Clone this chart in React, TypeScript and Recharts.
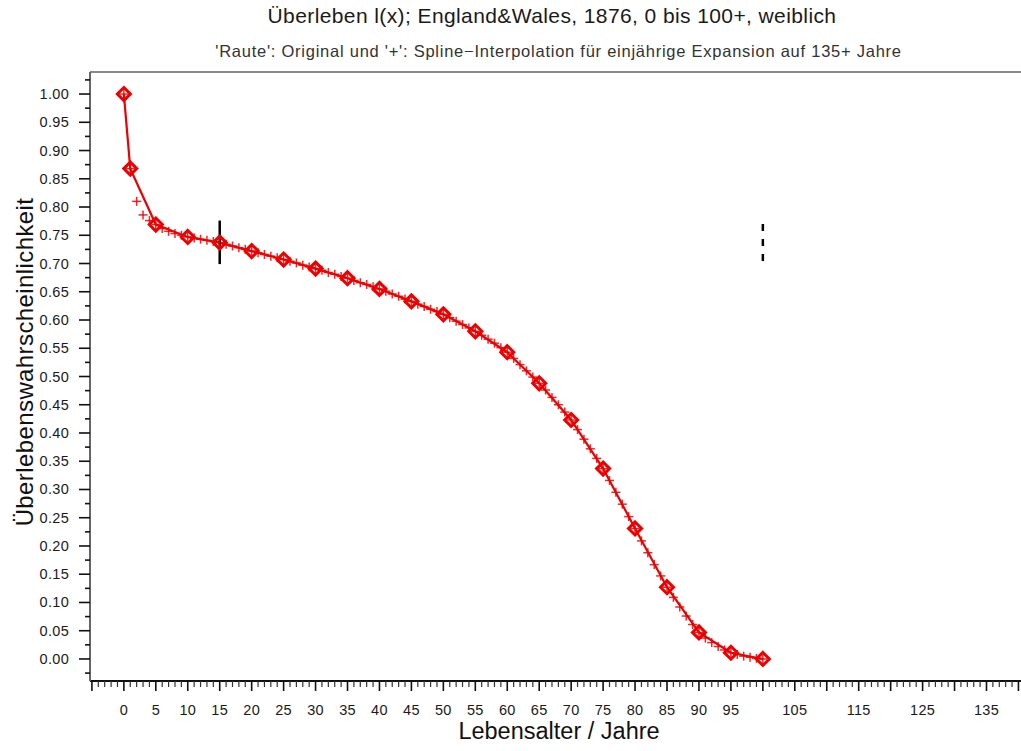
import { ComposedChart, Line, Scatter, XAxis, YAxis, ReferenceLine } from 'recharts';

// Originalwerte l(x) (Raute)
const origAges = [0, 1, 5, 10, 15, 20, 25, 30, 35, 40, 45, 50, 55, 60, 65, 70, 75, 80, 85, 90, 95, 100];
const origValues = [1.0, 0.868, 0.769, 0.747, 0.737, 0.722, 0.707, 0.691, 0.674, 0.655, 0.633, 0.61, 0.58, 0.543, 0.488, 0.423, 0.337, 0.231, 0.127, 0.047, 0.011, 0.0];

// Spline-Werte pro Lebensjahr 0..100 (+)
const splineValues = [
  1.0, 0.868, 0.81, 0.786, 0.776, 0.769, 0.762, 0.757, 0.753, 0.75,
  0.747, 0.745, 0.743, 0.741, 0.739, 0.737, 0.734, 0.731, 0.728, 0.725,
  0.722, 0.719, 0.716, 0.713, 0.71, 0.707, 0.704, 0.701, 0.697, 0.694,
  0.691, 0.688, 0.684, 0.681, 0.677, 0.674, 0.67, 0.666, 0.663, 0.659,
  0.655, 0.651, 0.646, 0.642, 0.637, 0.633, 0.628, 0.624, 0.619, 0.615,
  0.61, 0.604, 0.598, 0.592, 0.586, 0.58, 0.573, 0.566, 0.559, 0.551,
  0.543, 0.532, 0.521, 0.51, 0.499, 0.488, 0.476, 0.463, 0.45, 0.437,
  0.423, 0.406, 0.389, 0.372, 0.355, 0.337, 0.316, 0.295, 0.274, 0.252,
  0.231, 0.209, 0.188, 0.167, 0.147, 0.127, 0.109, 0.092, 0.076, 0.061,
  0.047, 0.037, 0.029, 0.022, 0.016, 0.011, 0.008, 0.005, 0.003, 0.001,
  0.0,
];

const xTickLabels = [0, 5, 10, 15, 20, 25, 30, 35, 40, 45, 50, 55, 60, 65, 70, 75, 80, 85, 90, 95, 105, 115, 125, 135];
const yTickLabels = ['0.00', '0.05', '0.10', '0.15', '0.20', '0.25', '0.30', '0.35', '0.40', '0.45', '0.50', '0.55', '0.60', '0.65', '0.70', '0.75', '0.80', '0.85', '0.90', '0.95', '1.00'];

const xTicks = Array.from({ length: 146 }, (_, i) => i - 5);
const yTicks = Array.from({ length: 43 }, (_, i) => Math.round((i - 1) * 25) / 1000);

const origData = origAges.map((age, i) => ({ age, value: origValues[i] }));
const splineData = splineValues.map((value, age) => ({ age, value }));

const Y_MIN = -0.039;
const Y_MAX = 1.039;

const RED = '#ee0000';
const FONT = "'Liberation Sans', Arial, sans-serif";

const XTick = (props: any) => {
  const { x, y, payload } = props;
  const v = Math.round(payload.value);
  const major = v % 5 === 0;
  const showLabel = xTickLabels.includes(v);
  return (
    <g>
      <line x1={x} x2={x} y1={y} y2={y + (major ? 10 : 6)} stroke={major ? '#111' : '#333'} strokeWidth={major ? 1.6 : 1.2} />
      {showLabel && (
        <text x={x} y={y + 34} textAnchor="middle" fontSize={14.5} fill="#1a1a1a" fontFamily={FONT} letterSpacing={0.3}>{v}</text>
      )}
    </g>
  );
};

const YTick = (props: any) => {
  const { x, y, payload } = props;
  const v = payload.value;
  const k = Math.round(v * 1000);
  const major = k % 50 === 0;
  const label = major && k >= 0 && k <= 1000 ? yTickLabels[k / 50] : null;
  return (
    <g>
      <line x1={x - (major ? 11 : 5)} x2={x} y1={y} y2={y} stroke="#111" strokeWidth={1.6} />
      {label && (
        <text x={x - 21} y={y + 5} textAnchor="end" fontSize={14.5} fill="#1a1a1a" fontFamily={FONT} letterSpacing={0.3}>{label}</text>
      )}
    </g>
  );
};

const Diamond = (props: any) => {
  const { cx, cy } = props;
  if (cx == null || cy == null) return null;
  const r = 6.5;
  return (
    <polygon
      points={`${cx},${cy - r} ${cx + r},${cy} ${cx},${cy + r} ${cx - r},${cy}`}
      fill="none"
      stroke={RED}
      strokeWidth={3}
    />
  );
};

const Plus = (props: any) => {
  const { cx, cy } = props;
  if (cx == null || cy == null) return null;
  const r = 4.5;
  return (
    <g stroke={RED} strokeWidth={1.5} strokeOpacity={0.85}>
      <line x1={cx - r} x2={cx + r} y1={cy} y2={cy} />
      <line x1={cx} x2={cx} y1={cy - r} y2={cy + r} />
    </g>
  );
};

export default function App() {
  return (
    <div style={{ position: 'absolute', left: 0, top: 0, width: 1021, height: 751, background: '#fff' }}>
      <div style={{ position: 'absolute', left: 0, top: 4, width: 1104, textAlign: 'center', fontFamily: FONT, fontSize: 21, letterSpacing: 0.4, color: '#1a1a1a' }}>
        Überleben l(x); England&amp;Wales, 1876, 0 bis 100+, weiblich
      </div>
      <div style={{ position: 'absolute', left: 0, top: 42, width: 1117, textAlign: 'center', fontFamily: FONT, fontSize: 16.5, letterSpacing: 0.75, color: '#333' }}>
        'Raute': Original und '+': Spline−Interpolation für einjährige Expansion auf 135+ Jahre
      </div>
      <div style={{ position: 'absolute', left: 0, top: 718, width: 1118, textAlign: 'center', fontFamily: FONT, fontSize: 23.5, color: '#111' }}>
        Lebensalter / Jahre
      </div>
      <div style={{ position: 'absolute', left: 25, top: 362, width: 0, height: 0 }}>
        <div style={{ position: 'absolute', left: -250, top: -15, width: 500, textAlign: 'center', transform: 'rotate(-90deg)', fontFamily: FONT, fontSize: 24, letterSpacing: 0.4, color: '#111', lineHeight: '30px' }}>
          Überlebenswahrscheinlichkeit
        </div>
      </div>
      <ComposedChart
        width={1021}
        height={751}
        margin={{ top: 72, right: 0, bottom: 0, left: 0 }}
        style={{ position: 'absolute', left: 0, top: 0 }}
      >
        <XAxis
          xAxisId="main"
          dataKey="age"
          type="number"
          domain={[-5.3, 140.4]}
          ticks={xTicks}
          interval={0}
          height={70}
          tickSize={0}
          tickMargin={0}
          tickLine={false}
          tick={<XTick />}
          axisLine={{ stroke: '#111', strokeWidth: 2 }}
          allowDataOverflow
        />
        <YAxis
          yAxisId="main"
          type="number"
          domain={[Y_MIN, Y_MAX]}
          ticks={yTicks}
          interval={0}
          width={90}
          tickSize={0}
          tickMargin={0}
          tickLine={false}
          tick={<YTick />}
          axisLine={{ stroke: '#666', strokeWidth: 2 }}
          allowDataOverflow
        />
        <ReferenceLine xAxisId="main" yAxisId="main" y={Y_MAX} stroke="#888" strokeWidth={2} ifOverflow="visible" />
        <Scatter
          xAxisId="main"
          yAxisId="main"
          data={splineData}
          dataKey="value"
          shape={<Plus />}
          isAnimationActive={false}
        />
        <Line
          xAxisId="main"
          yAxisId="main"
          data={origData}
          dataKey="value"
          type="linear"
          stroke={RED}
          strokeWidth={2.2}
          dot={<Diamond />}
          activeDot={false}
          isAnimationActive={false}
        />
        <ReferenceLine
          xAxisId="main"
          yAxisId="main"
          segment={[{ x: 15, y: 0.776 }, { x: 15, y: 0.699 }]}
          stroke="#000"
          strokeWidth={2.5}
        />
        <ReferenceLine
          xAxisId="main"
          yAxisId="main"
          segment={[{ x: 100, y: 0.77 }, { x: 100, y: 0.698 }]}
          stroke="#000"
          strokeWidth={2.5}
          strokeDasharray="7 8"
        />
      </ComposedChart>
    </div>
  );
}
